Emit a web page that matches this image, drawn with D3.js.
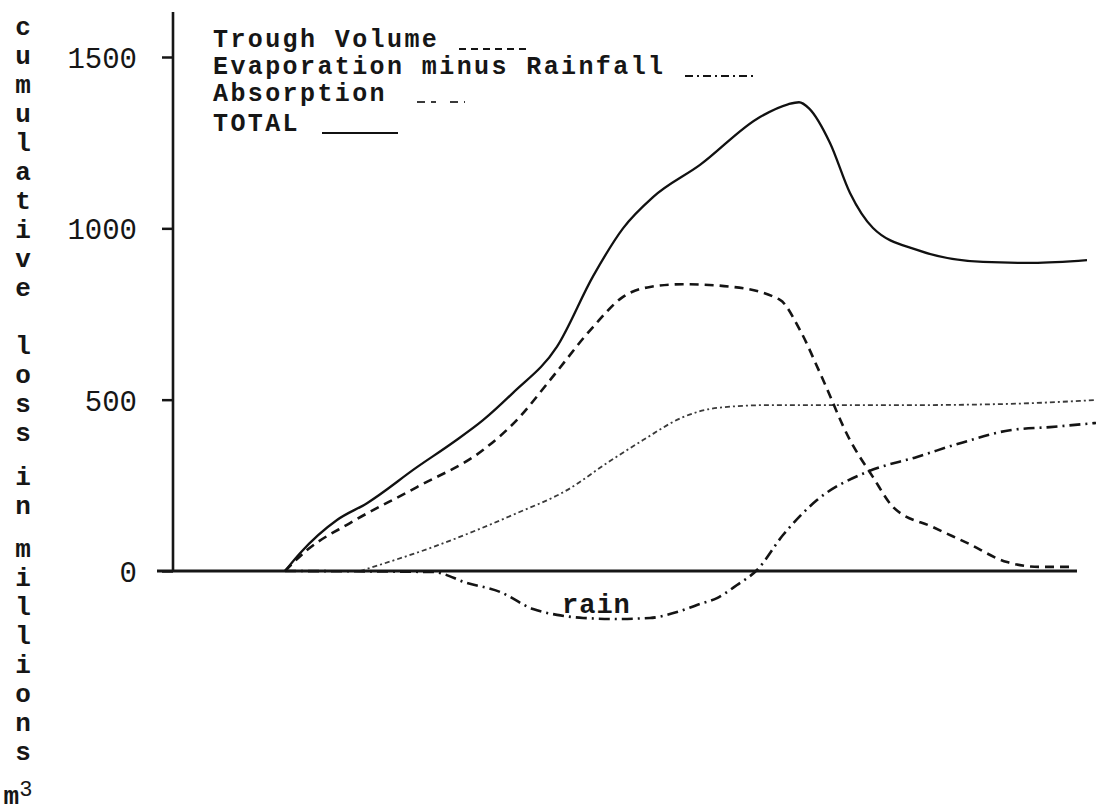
<!DOCTYPE html>
<html>
<head>
<meta charset="utf-8">
<script src="https://cdnjs.cloudflare.com/ajax/libs/d3/7.8.5/d3.min.js"></script>
<style>
  body { margin: 0; background: #fff; }
  text { font-family: "Liberation Mono", "DejaVu Sans Mono", monospace; fill: #161616; }
</style>
</head>
<body>
<div id="chart"></div>
<script>
// values (x is an unlabelled time axis)
const totalT = [11.2, 12.7, 16.4, 19.4, 24.4, 28.0, 31.0, 34.0, 38.4, 42.0, 45.0, 48.0, 52.7, 58.7, 61.5, 62.6, 63.6, 65.7, 67.7, 70.0, 74.4, 81.0, 86.0, 91.4];
const totalV = [0, 52, 149, 198, 303, 375, 440, 520, 655, 860, 1000, 1091, 1185, 1325, 1362, 1368, 1350, 1249, 1103, 1001, 937, 902, 899, 907];

const troughT = [11.2, 13.4, 17.7, 24.4, 31.0, 34.4, 37.7, 42.0, 45.0, 47.7, 51.0, 56.0, 60.7, 62.7, 64.7, 67.7, 70.0, 72.0, 76.0, 79.4, 83.4, 86.7, 90.0];
const troughV = [0, 61, 140, 245, 353, 441, 557, 712, 800, 829, 837, 829, 791, 703, 578, 382, 274, 187, 128, 82, 26, 12, 12];

const absT = [18.7, 26.0, 34.4, 39.4, 43.4, 47.0, 51.0, 54.4, 59.4, 72.7, 82.7, 92.3];
const absV = [0, 70, 169, 236, 315, 382, 449, 476, 484, 484, 487, 499];

const evapT = [11.2, 26.0, 29.4, 32.7, 36.0, 38.4, 41.0, 44.4, 47.7, 50.4, 52.4, 54.4, 56.4, 58.4, 61.0, 64.4, 69.4, 74.4, 79.4, 83.7, 87.7, 92.3];
const evapV = [0, -3, -35, -61, -111, -128, -137, -140, -137, -120, -99, -79, -41, 3, 105, 207, 289, 333, 379, 411, 420, 432];

const yTicks = [0, 500, 1000, 1500];
const legendLabels = ["Trough Volume", "Evaporation minus Rainfall", "Absorption", "TOTAL"];
const yLabelWords = ["cumulative", "loss", "in", "millions"];

const W = 1096, H = 812;
const svg = d3.select("#chart").append("svg").attr("width", W).attr("height", H);

const x = d3.scaleLinear().domain([0, 92.3]).range([173, 1096]);
const y = d3.scaleLinear().domain([0, 1500]).range([571, 57]);

// y axis
const yAxis = d3.axisLeft(y).tickValues(yTicks).tickSize(11).tickPadding(25).tickFormat(d3.format("d"));
const ga = svg.append("g").attr("transform", "translate(173,0)").call(yAxis);
ga.select(".domain").remove();
ga.selectAll(".tick line").attr("stroke", "#161616").attr("stroke-width", 2.5);
ga.selectAll(".tick text")
  .style("font-family", "'Liberation Mono', monospace")
  .style("font-size", "29px")
  .attr("fill", "#161616")
  .attr("dy", "0.36em");
svg.append("line").attr("x1", 173).attr("x2", 173).attr("y1", 12).attr("y2", y(0) + 1)
   .attr("stroke", "#161616").attr("stroke-width", 2.6);
svg.append("line").attr("x1", 157).attr("x2", 1077).attr("y1", y(0)).attr("y2", y(0))
   .attr("stroke", "#161616").attr("stroke-width", 3);

// vertical typewriter label
let slots = [];
let k = 0;
yLabelWords.forEach((w, wi) => {
  w.split("").forEach(c => { slots.push({c: c, k: k}); k += 1; });
  k += wi === 0 ? 1 : 0.5;
});
slots.push({c: "m", k: k, sup: "3"});
const step = (804 - 35) / k;
const yl = svg.append("g");
slots.forEach(s => {
  const t = yl.append("text")
    .attr("x", s.sup ? 18 : 23)
    .attr("y", 35 + s.k * step)
    .attr("text-anchor", "middle")
    .style("font-size", "26px")
    .style("font-weight", "bold")
    .text(s.c);
  if (s.sup) {
    t.append("tspan").attr("dy", -8).style("font-size", "22px").style("font-weight", "normal").text(s.sup);
  }
});

// series
const styles = {
  trough: {dash: "9,6", w: 2.6, c: "#141414"},
  evap: {dash: "11,5,2,5", w: 2.6, c: "#141414"},
  abs: {dash: "5,3,2,3", w: 1.8, c: "#3a3a3a"},
  total: {dash: null, w: 2.3, c: "#111"}
};
const line = d3.line().x(d => x(d[0])).y(d => y(d[1])).curve(d3.curveMonotoneX);
function draw(ts, vs, st) {
  svg.append("path")
    .datum(ts.map((t, i) => [t, vs[i]]))
    .attr("d", line)
    .attr("fill", "none")
    .attr("stroke", st.c)
    .attr("stroke-width", st.w)
    .attr("stroke-dasharray", st.dash);
}
draw(absT, absV, styles.abs);
draw(evapT, evapV, styles.evap);
draw(troughT, troughV, styles.trough);
draw(totalT, totalV, styles.total);

svg.append("text").attr("x", 562).attr("y", 613)
  .style("font-size", "27px").style("font-weight", "bold").style("letter-spacing", "1px")
  .text("rain");

// legend (typed labels with small line samples)
const legendY = [47, 74, 101, 131];
const legendSample = [[459, 529, "trough", 2], [685, 757, "evap", 2], [417, 465, "abs", 1], [322, 398, "total", 2]];
legendLabels.forEach((lab, i) => {
  svg.append("text").attr("x", 213).attr("y", legendY[i])
    .style("font-size", "25px").style("font-weight", "bold").style("letter-spacing", "2.4px")
    .text(lab);
  const s = legendSample[i];
  const st = styles[s[2]];
  svg.append("line")
    .attr("x1", s[0]).attr("x2", s[1])
    .attr("y1", legendY[i] + s[3]).attr("y2", legendY[i] + s[3])
    .attr("stroke", st.c).attr("stroke-width", 2)
    .attr("stroke-dasharray", s[2] === "total" ? null : (s[2] === "abs" ? "8,6,5,14" : (s[2] === "evap" ? "8,4,2,4" : "7,5")));
});
</script>
</body>
</html>
